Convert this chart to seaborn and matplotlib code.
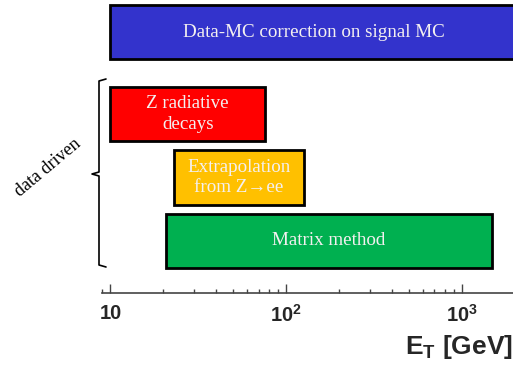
import matplotlib
matplotlib.use("Agg")
import matplotlib.pyplot as plt
import matplotlib.transforms as mtransforms
import seaborn as sns

# data: methods and their E_T ranges [GeV]
methods = ["Data-MC correction on signal MC",
           "Z radiative\ndecays",
           "Extrapolation\nfrom Z\u2192ee",
           "Matrix method"]
et_low = [10, 10, 23, 20.7]
et_high = [2100, 76, 126, 1490]
colors = ["#3333CC", "#FF0000", "#FFC000", "#00B050"]
tick_vals = [10, 100, 1000]
tick_labels = ["10", "$10^2$", "$10^3$"]

# layout
row_pos = [0, 1.3, 2.3, 3.3]
bar_h = 0.86

sns.set_theme(style="white")
plt.rcParams["font.family"] = ["Liberation Sans", "DejaVu Sans"]
plt.rcParams["mathtext.fontset"] = "custom"
plt.rcParams["mathtext.rm"] = "Liberation Sans:bold"
plt.rcParams["mathtext.it"] = "Liberation Sans:bold"
plt.rcParams["mathtext.bf"] = "Liberation Sans:bold"
plt.rcParams["mathtext.default"] = "rm"

fig = plt.figure(figsize=(5.13, 3.69), dpi=100)
ax = fig.add_axes([102 / 513, 76 / 369, 1 - 102 / 513, 1 - 76 / 369])

widths = [h - l for l, h in zip(et_low, et_high)]
ax.barh(row_pos, widths, left=et_low, height=bar_h, color=colors,
        edgecolor="black", linewidth=2)

serif = ["Liberation Serif", "DejaVu Serif"]
for i, txt in enumerate(methods):
    xc = (et_low[i] * et_high[i]) ** 0.5
    ax.text(xc, row_pos[i], txt, ha="center", va="center", color="#F4F0F0",
            fontsize=13.7, family=serif, linespacing=1.3)

ax.set_xscale("log")
ax.set_xlim(8.95, 1960)
ax.set_ylim(4.127, -0.506)
ax.set_yticks([])
ax.set_xticks(tick_vals)
ax.set_xticklabels(tick_labels)
ax.tick_params(axis="x", which="major", direction="in", length=6.5, width=1,
               color="#444444", pad=8, labelsize=14.5, bottom=True)
ax.tick_params(axis="x", which="minor", direction="in", length=3, width=1,
               color="#444444", bottom=True)
for lab in ax.get_xticklabels():
    lab.set_fontweight("bold")
sns.despine(ax=ax, left=True, top=True, right=True)
ax.spines["bottom"].set_color("#444444")
ax.spines["bottom"].set_linewidth(1.2)
ax.set_facecolor("white")
ax.set_xlabel(r"$E_T$ [GeV]", fontsize=19, fontweight="bold", ha="right",
              labelpad=0)
ax.xaxis.set_label_coords(1.0, -0.135)

# pixel transform for annotations (origin top-left)
px = mtransforms.Affine2D().scale(1 / 513, -1 / 369).translate(0, 1) + fig.transFigure
bx = [106, 99, 99, 92, 99, 99, 106]
by = [79, 81, 172, 174, 176, 265, 267]
fig.add_artist(plt.Line2D(bx, by, transform=px, color="black", lw=1.2))
fig.text(48, 168, "data driven", transform=px, rotation=40, ha="center",
         va="center", fontsize=13, family=serif, color="black")

fig.savefig("out.png", dpi=100)
